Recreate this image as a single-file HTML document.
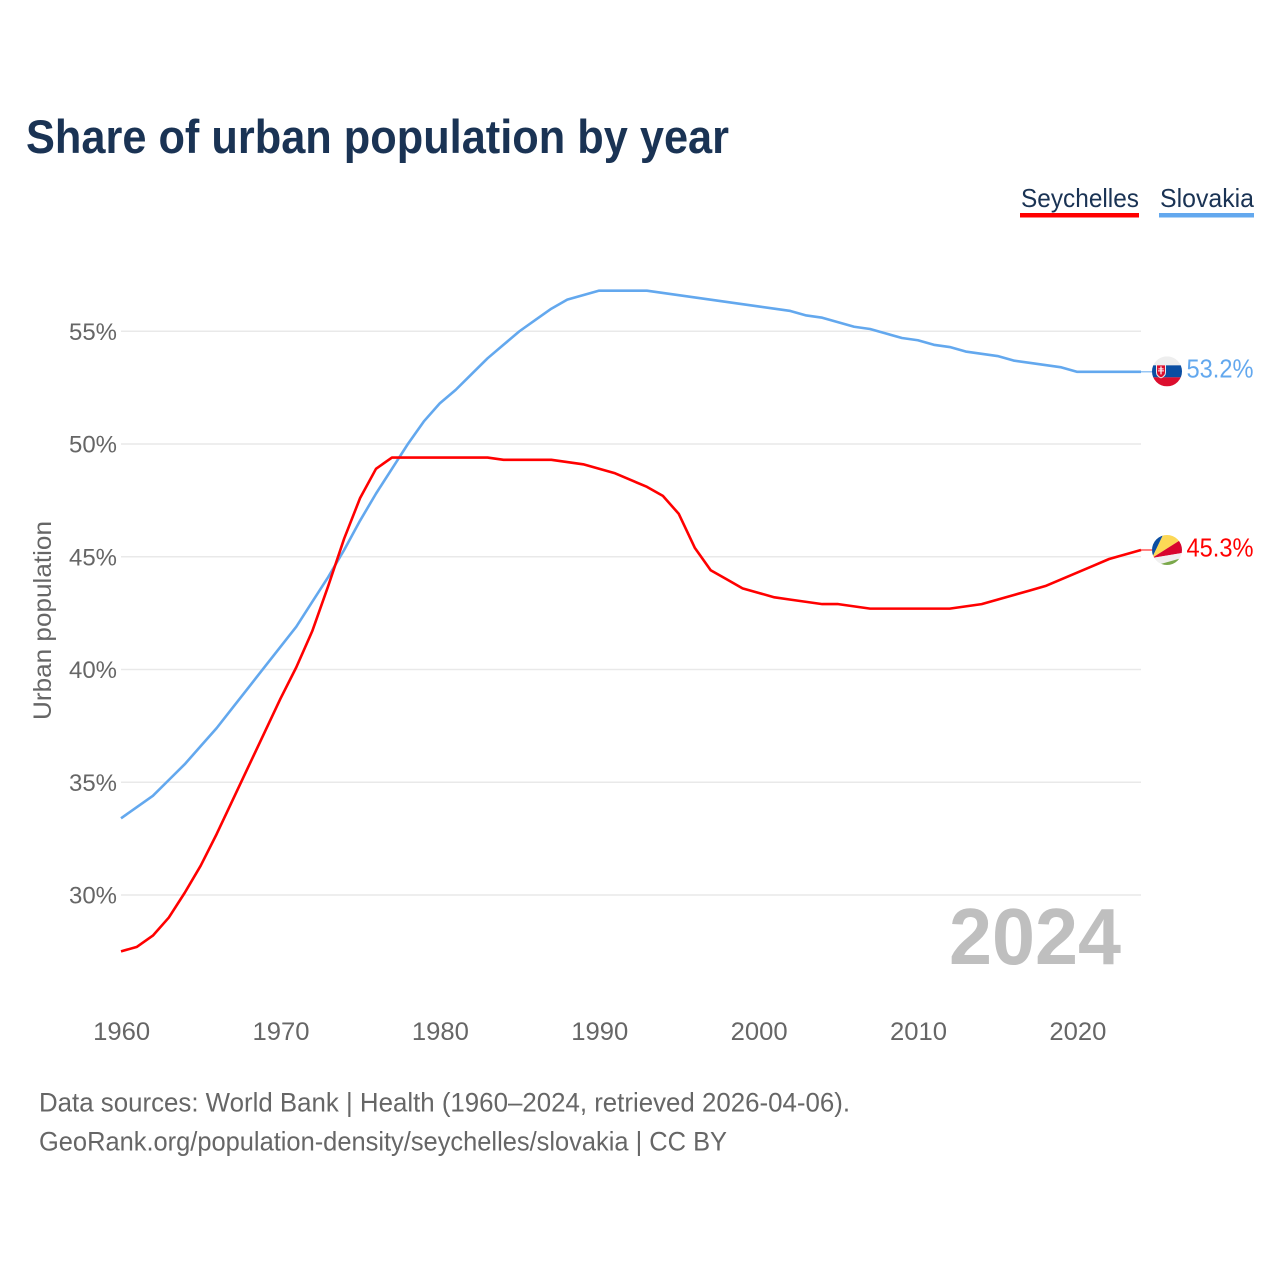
<!DOCTYPE html>
<html lang="en">
<head>
<meta charset="utf-8">
<title>Share of urban population by year</title>
<style>
html,body{margin:0;padding:0;background:#fff;width:1280px;height:1280px;overflow:hidden}
svg{display:block}
text{font-family:"Liberation Sans",sans-serif}
</style>
</head>
<body>
<svg id="chart" xmlns="http://www.w3.org/2000/svg" width="1280" height="1280" viewBox="0 0 1280 1280">
  <defs>
    <clipPath id="flag-clip"><circle cx="0" cy="0" r="15"></circle></clipPath>
  </defs>
  <rect width="1280" height="1280" fill="#fff"></rect>
  <text x="26" y="153" font-size="47" font-weight="700" fill="#1a3354" textLength="703" lengthAdjust="spacingAndGlyphs">Share of urban population by year</text>

  <g>
    <g>
      <text x="1021" y="207" font-size="26" fill="#1a3354" textLength="118" lengthAdjust="spacingAndGlyphs">Seychelles</text>
      <rect x="1020" y="213" width="119" height="4.5" fill="#ff0000"></rect>
    </g>
    <g>
      <text x="1160" y="207" font-size="26" fill="#1a3354" textLength="94" lengthAdjust="spacingAndGlyphs">Slovakia</text>
      <rect x="1159" y="213" width="95" height="4.5" fill="#63a8ee"></rect>
    </g>
  </g>

  <g id="grid"></g>
  <g id="yticks"></g>
  <g id="xticks"></g>
  <text transform="translate(51,620.5) rotate(-90)" text-anchor="middle" font-size="25" fill="#666666" textLength="199" lengthAdjust="spacingAndGlyphs">Urban population</text>
  <text x="949" y="964" font-size="80" font-weight="700" fill="#bfbfbf" textLength="172" lengthAdjust="spacingAndGlyphs">2024</text>

  <g id="series"></g>

  <g id="flag-slovakia">
    <g clip-path="url(#flag-clip)">
      <rect x="-15" y="-15" width="30" height="30" fill="#eeeeee"></rect>
      <rect x="-15" y="-6" width="30" height="12" fill="#0b4ea2"></rect>
      <rect x="-15" y="6" width="30" height="9" fill="#dc0e2e"></rect>
      <path d="M-11,-7 H-1 V1 Q-1,5 -6,7 Q-11,5 -11,1 Z" fill="#eeeeee"></path>
      <path d="M-10,-6 H-2 V1 Q-2,4 -6,6 Q-10,4 -10,1 Z" fill="#dc0e2e"></path>
      <path d="M-6.6,-5 h1.2 v2 h2 v1 h-2 v1 h2.4 v1 h-2.4 v3 h-1.2 v-3 h-2.4 v-1 h2.4 v-1 h-2 v-1 h2 Z" fill="#ffffff"></path>
    </g>
  </g>
  <g id="flag-seychelles">
    <g clip-path="url(#flag-clip)">
      <rect x="-15" y="-15" width="30" height="30" fill="#f0f0f0"></rect>
      <path d="M-15,8 L-15,-15 L-4,-15 Z" fill="#0b4ea2"></path>
      <path d="M-15,8 L-4,-15 L15,-15 L15,-11 Z" fill="#fcd856"></path>
      <path d="M-15,8 L15,-11 L15,3 Z" fill="#d8062e"></path>
      <path d="M-15,8 L15,3 L15,9 Z" fill="#f0f0f0"></path>
      <path d="M-15,8 L15,9 L15,15 L-15,15 Z" fill="#f0f0f0"></path>
      <path d="M-10,15 L15,8 L15,15 Z" fill="#7aa84a"></path>
    </g>
  </g>
  <g id="endlabels"></g>

  <g>
    <text x="39" y="1111.5" font-size="26.5" fill="#666666" textLength="811" lengthAdjust="spacingAndGlyphs">Data sources: World Bank | Health (1960–2024, retrieved 2026-04-06).</text>
    <text x="39" y="1150.5" font-size="26.5" fill="#666666" textLength="688" lengthAdjust="spacingAndGlyphs">GeoRank.org/population-density/seychelles/slovakia | CC BY</text>
  </g>
</svg>
<script>
var years = [1960,1961,1962,1963,1964,1965,1966,1967,1968,1969,1970,1971,1972,1973,1974,1975,1976,1977,1978,1979,1980,1981,1982,1983,1984,1985,1986,1987,1988,1989,1990,1991,1992,1993,1994,1995,1996,1997,1998,1999,2000,2001,2002,2003,2004,2005,2006,2007,2008,2009,2010,2011,2012,2013,2014,2015,2016,2017,2018,2019,2020,2021,2022,2023,2024];
var seychelles = [27.5,27.7,28.2,29.0,30.1,31.3,32.7,34.2,35.7,37.2,38.7,40.1,41.7,43.7,45.8,47.6,48.9,49.4,49.4,49.4,49.4,49.4,49.4,49.4,49.3,49.3,49.3,49.3,49.2,49.1,48.9,48.7,48.4,48.1,47.7,46.9,45.4,44.4,44.0,43.6,43.4,43.2,43.1,43.0,42.9,42.9,42.8,42.7,42.7,42.7,42.7,42.7,42.7,42.8,42.9,43.1,43.3,43.5,43.7,44.0,44.3,44.6,44.9,45.1,45.3];
var slovakia = [33.4,33.9,34.4,35.1,35.8,36.6,37.4,38.3,39.2,40.1,41.0,41.9,43.0,44.1,45.3,46.6,47.8,48.9,50.0,51.0,51.8,52.4,53.1,53.8,54.4,55.0,55.5,56.0,56.4,56.6,56.8,56.8,56.8,56.8,56.7,56.6,56.5,56.4,56.3,56.2,56.1,56.0,55.9,55.7,55.6,55.4,55.2,55.1,54.9,54.7,54.6,54.4,54.3,54.1,54.0,53.9,53.7,53.6,53.5,53.4,53.2,53.2,53.2,53.2,53.2];
var yTickValues = [30,35,40,45,50,55];
var xTickValues = [1960,1970,1980,1990,2000,2010,2020];

var SVG_NS = 'http://www.w3.org/2000/svg';
function x(year){ return 121 + (year - 1960) * (1020 / 64); }
function y(value){ return 895 - (value - 30) * 22.55; }
function make(tag, attrs, parent){
  var el = document.createElementNS(SVG_NS, tag);
  for (var k in attrs) el.setAttribute(k, attrs[k]);
  parent.appendChild(el);
  return el;
}

var grid = document.getElementById('grid');
var yticks = document.getElementById('yticks');
yTickValues.forEach(function(v){
  var line = make('line', {x1: x(1960), x2: x(2024), y1: y(v), y2: y(v), stroke: '#e9e9e9', 'stroke-width': 1.5}, grid);
  
  
  var label = make('text', {x: 117, y: y(v) + 8.5, 'text-anchor': 'end', 'font-size': 24.5, fill: '#666666', textLength: 48, lengthAdjust: 'spacingAndGlyphs'}, yticks);
  label.textContent = v + '%';
  
  
});

var xticks = document.getElementById('xticks');
xTickValues.forEach(function(v){
  var label = make('text', {x: x(v) + 0.7, y: 1040, 'text-anchor': 'middle', 'font-size': 25, fill: '#666666', textLength: 57, lengthAdjust: 'spacingAndGlyphs'}, xticks);
  label.textContent = String(v);
  
  
});

function points(values){
  return values.map(function(v, i){ return x(years[i]).toFixed(2) + ',' + y(v).toFixed(2); }).join(' ');
}

var seriesGroup = document.getElementById('series');
var slovakiaLine = make('polyline', {points: points(slovakia), fill: 'none', stroke: '#63a8ee', 'stroke-width': 2.6, 'stroke-linejoin': 'round'}, seriesGroup);


var seychellesLine = make('polyline', {points: points(seychelles), fill: 'none', stroke: '#ff0000', 'stroke-width': 2.6, 'stroke-linejoin': 'round'}, seriesGroup);



var lastSk = slovakia[slovakia.length - 1];
var lastSc = seychelles[seychelles.length - 1];
var lastYear = years[years.length - 1];

var skConnector = make('line', {x1: x(lastYear), x2: 1153, y1: y(lastSk), y2: y(lastSk), stroke: '#63a8ee', 'stroke-width': 1}, seriesGroup);


var scConnector = make('line', {x1: x(lastYear), x2: 1153, y1: y(lastSc), y2: y(lastSc), stroke: '#ff0000', 'stroke-width': 1}, seriesGroup);



document.getElementById('flag-slovakia').setAttribute('transform', 'translate(1167,' + (y(lastSk) - 0.5) + ')');
document.getElementById('flag-seychelles').setAttribute('transform', 'translate(1167,' + y(lastSc) + ')');

var endLabels = document.getElementById('endlabels');
var skLabel = make('text', {x: 1186.5, y: y(lastSk) + 5.5, 'font-size': 25.5, fill: '#63a8ee', textLength: 67, lengthAdjust: 'spacingAndGlyphs'}, endLabels);
skLabel.textContent = lastSk.toFixed(1) + '%';


var scLabel = make('text', {x: 1186.5, y: y(lastSc) + 6.5, 'font-size': 25.5, fill: '#ff0000', textLength: 67, lengthAdjust: 'spacingAndGlyphs'}, endLabels);
scLabel.textContent = lastSc.toFixed(1) + '%';


</script>
</body>
</html>
